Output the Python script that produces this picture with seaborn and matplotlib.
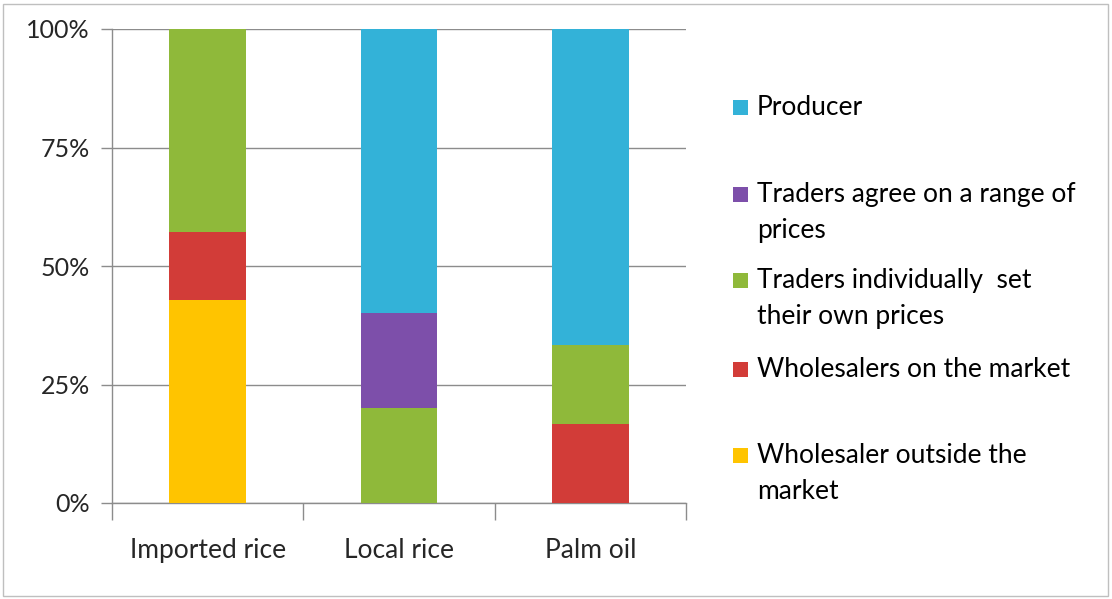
import matplotlib
matplotlib.use("Agg")
import matplotlib.pyplot as plt
from matplotlib.patches import Rectangle
import numpy as np
import seaborn as sns

categories = ["Imported rice", "Local rice", "Palm oil"]
series_names = [
    "Wholesaler outside the\nmarket",
    "Wholesalers on the market",
    "Traders individually  set\ntheir own prices",
    "Traders agree on a range of\nprices",
    "Producer",
]
wholesaler_outside = [42.86, 0.0, 0.0]
wholesalers_market = [14.29, 0.0, 16.67]
traders_individual = [42.86, 20.0, 16.67]
traders_agree = [0.0, 20.0, 0.0]
producer = [0.0, 60.0, 66.67]
series_values = [wholesaler_outside, wholesalers_market, traders_individual,
                 traders_agree, producer]
series_colors = ["#FFC400", "#D23C38", "#8FB93A", "#7D4FAA", "#33B2D8"]
y_ticks = [0, 25, 50, 75, 100]
y_tick_labels = ["0%", "25%", "50%", "75%", "100%"]

sns.set_style("white")
plt.rcParams["font.family"] = ["Lato", "DejaVu Sans"]

W, H = 1112, 599
fig = plt.figure(figsize=(W / 100, H / 100), dpi=100)
ax = fig.add_axes([112 / W, 1 - 503 / H, (686 - 112) / W, (503 - 29) / H])

bottom = np.zeros(len(categories))
for name, vals, col in zip(series_names, series_values, series_colors):
    vals = np.array(vals)
    sns.barplot(x=categories, y=vals, bottom=bottom, color=col, width=0.4,
                saturation=1, linewidth=0, ax=ax, zorder=3)
    bottom = bottom + vals

ax.set_xlim(-0.5, 2.5)
ax.set_ylim(0, 100)
ax.set_yticks(y_ticks)
ax.set_yticklabels(y_tick_labels)
ax.yaxis.grid(True, color="#8C8C8C", linewidth=1.0, zorder=0)
ax.xaxis.grid(False)

ax.set_xticks([-0.5, 0.5, 1.5, 2.5])
ax.set_xticklabels([])
ax.set_xticks([0, 1, 2], minor=True)
ax.set_xticklabels(categories, minor=True)
ax.tick_params(axis="x", which="major", direction="out", length=12, width=1,
               color="#8C8C8C", bottom=True)
ax.tick_params(axis="x", which="minor", length=0, pad=25, labelsize=19)
ax.tick_params(axis="y", direction="out", length=8, width=1, color="#8C8C8C",
               left=True, pad=8, labelsize=18)
for s in ["top", "right"]:
    ax.spines[s].set_visible(False)
for s in ["left", "bottom"]:
    ax.spines[s].set_color("#8C8C8C")
    ax.spines[s].set_linewidth(1.0)
ax.set_xlabel("")
ax.set_ylabel("")

# legend (drawn manually, top entry = top of stack)
legend_baselines = [115, 202, 288, 377, 463]
line_step = 36
for yb, name, col in zip(legend_baselines, series_names[::-1], series_colors[::-1]):
    fig.patches.append(Rectangle((733 / W, 1 - yb / H), 15 / W, 15 / H,
                                 transform=fig.transFigure, facecolor=col,
                                 edgecolor=col, linewidth=0))
    for k, line in enumerate(name.split("\n")):
        fig.text(757 / W, 1 - (yb + k * line_step) / H, line, fontsize=19,
                 va="baseline", ha="left", color="black")

fig.patches.append(Rectangle((3 / W, 3 / H), (W - 7) / W, (H - 7) / H,
                             transform=fig.transFigure, facecolor="none",
                             edgecolor="#BFBFBF", linewidth=1))

fig.savefig("out.png", dpi=100)
